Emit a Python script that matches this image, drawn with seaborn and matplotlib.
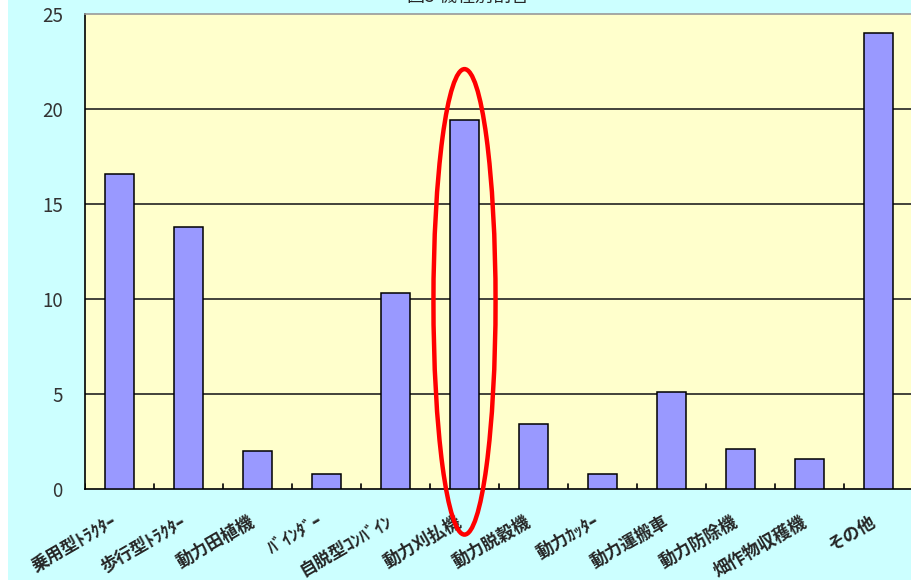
import matplotlib
matplotlib.use("Agg")
import matplotlib.pyplot as plt
import matplotlib.transforms as mtransforms
import seaborn as sns
import pandas as pd
from matplotlib.patches import Ellipse, Rectangle

# Data (percent share by machine type)
categories = ['乗用型ﾄﾗｸﾀｰ', '歩行型ﾄﾗｸﾀｰ', '動力田植機', 'ﾊﾞｲﾝﾀﾞｰ', '自脱型ｺﾝﾊﾞｲﾝ', '動力刈払機',
              '動力脱穀機', '動力ｶｯﾀｰ', '動力運搬車', '動力防除機', '畑作物収穫機', 'その他']
shares = [16.6, 13.8, 2.0, 0.8, 10.3, 19.4, 3.4, 0.8, 5.1, 2.1, 1.6, 24.0]
y_ticks = [0, 5, 10, 15, 20, 25]
title = '図5 機種別割合'
highlight = '動力刈払機'

df = pd.DataFrame({'category': categories, 'share': shares})

sns.set_style('white')
plt.rcParams['font.family'] = ['Noto Sans CJK JP', 'DejaVu Sans']

fig = plt.figure(figsize=(9.12, 5.8), dpi=100, facecolor='#CCFFFF')
ax = fig.add_axes([85 / 912, 1 - 489 / 580, 828 / 912, 475 / 580])
ax.set_facecolor('#FFFFCC')

# white strip on the left edge of the screenshot
fig.patches.append(Rectangle((0, 0), 8 / 912, 1, transform=fig.transFigure,
                             facecolor='white', edgecolor='none', zorder=0))

sns.barplot(data=df, x='category', y='share', color='#9999FF', saturation=1,
            edgecolor='black', linewidth=1.1, width=0.41, ax=ax, zorder=3)

ax.set_ylim(0, 25)
ax.set_xlim(-0.5, len(categories) - 0.5)
ax.set_yticks(y_ticks)
ax.set_yticklabels([str(v) for v in y_ticks], fontsize=13.5, color='#333333')
ax.tick_params(axis='y', length=0, pad=16)
ax.tick_params(axis='x', length=0, pad=17)
ax.set_xticks(range(len(categories)))
ax.set_xticklabels(categories, rotation=30, ha='right', va='top',
                   rotation_mode='anchor', fontsize=12.5, fontweight='bold')
shift = mtransforms.ScaledTranslation(-9 / 100, 0, fig.dpi_scale_trans)
for lab in ax.get_xticklabels():
    lab.set_transform(lab.get_transform() + shift)
for v in y_ticks[1:-1]:
    ax.axhline(v, color='#222222', linewidth=1.2, zorder=1)
ax.set_xlabel('')
ax.set_ylabel('')

for side in ['left', 'bottom']:
    ax.spines[side].set_color('black')
    ax.spines[side].set_linewidth(1.2)
ax.spines['top'].set_color('#999999')
ax.spines['top'].set_linewidth(1.2)
ax.spines['right'].set_visible(False)

# small category tick marks on the baseline
for i in range(len(categories) + 1):
    ax.plot([i - 0.5, i - 0.5], [0, 0.25], color='black', linewidth=1.2, zorder=2)

# red ellipse around the highlighted bar
xi = categories.index(highlight)
ax.add_patch(Ellipse((xi, 9.85), width=0.9, height=24.5, fill=False,
                     edgecolor='#FF0000', linewidth=3.2, clip_on=False, zorder=5))

# title is cut off at the top edge, as in the source screenshot
fig.text(0.513, 1 - 6 / 580, title, ha='center', va='bottom', fontsize=13)

fig.savefig('out.png', dpi=100, facecolor=fig.get_facecolor())
